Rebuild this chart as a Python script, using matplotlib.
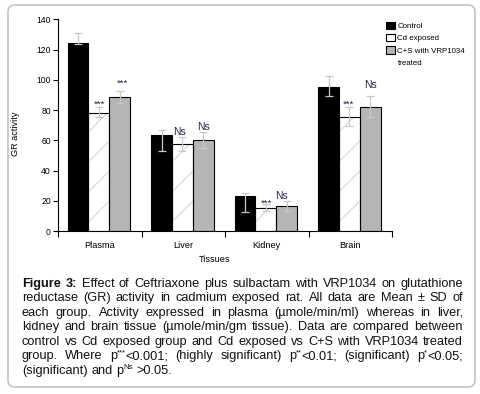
import re

import matplotlib

matplotlib.use("Agg")
import matplotlib.pyplot as plt
import numpy as np
from matplotlib.patches import FancyBboxPatch, Patch
from matplotlib.transforms import IdentityTransform

plt.rcParams["font.family"] = ["Liberation Sans", "DejaVu Sans"]

TISSUES = ["Plasma", "Liver", "Kidney", "Brain"]
SERIES = ["Control", "Cd exposed", "C+S with VRP1034"]

CONTROL = [124.0, 63.6, 23.2, 95.2]
CD_EXPOSED = [78.0, 57.6, 15.0, 75.7]
CS_VRP = [88.5, 60.3, 16.8, 82.3]

# error bar ends as drawn in the figure
CONTROL_ERR_LO = [123.6, 53.2, 12.4, 89.4]
CONTROL_ERR_HI = [130.9, 66.9, 25.4, 102.6]
CD_ERR_LO = [75.7, 53.2, 13.2, 69.5]
CD_ERR_HI = [81.9, 62.0, 17.7, 81.9]
CS_ERR_LO = [84.6, 55.2, 13.4, 75.3]
CS_ERR_HI = [92.3, 65.8, 20.1, 89.4]

# significance marks: (tissue, series, text, height)
SIG_MARKS = [
    (0, 1, "***", 86.1),
    (0, 2, "***", 100.0),
    (1, 1, "Ns", 65.8),
    (1, 2, "Ns", 69.0),
    (2, 1, "***", 20.5),
    (2, 2, "Ns", 23.8),
    (3, 1, "***", 85.6),
    (3, 2, "Ns", 97.3),
]
SIG_NUDGE = [0.01, 0.03, -0.03, 0.0, 0.01, -0.06, -0.01, 0.0]

CAPTION_LINES = [
    "Figure 3: Effect of Ceftriaxone plus sulbactam with VRP1034 on glutathione",
    "reductase (GR) activity in cadmium exposed rat. All data are Mean \u00b1 SD of",
    "each group. Activity expressed in plasma (\u00b5mole/min/ml) whereas in liver,",
    "kidney and brain tissue (\u00b5mole/min/gm tissue). Data are compared between",
    "control vs Cd exposed group and Cd exposed vs C+S with VRP1034 treated",
    "group. Where p^{***}<0.001; (highly significant) p^{**}<0.01; (significant) p^{*}<0.05;",
    "(significant) and p^{Ns} >0.05.",
]

W_PX, H_PX = 480, 394
BAR_W = 0.25
OFFSETS = [-0.26, -0.01, 0.24]
ERR_COLOR = "#c8c8c8"
MARK_COLOR = "#26264a"


def sparse_hatch(ax, bars, spacing=30, color="#d2d2d2"):
    inv = ax.transData.inverted()
    for bar in bars:
        x0, y0 = ax.transData.transform((bar.get_x(), bar.get_y()))
        x1, y1 = ax.transData.transform((bar.get_x() + bar.get_width(), bar.get_y() + bar.get_height()))
        for c in np.arange(-(x1 - x0), y1 - y0, spacing):
            px = np.array([x0, x1])
            py = y0 + c + (px - x0)
            pts = inv.transform(np.column_stack([px, py]))
            (line,) = ax.plot(pts[:, 0], pts[:, 1], color=color, lw=0.7, zorder=2.1,
                              scalex=False, scaley=False)
            line.set_clip_path(bar)


def draw_caption(fig, lines, x_left, x_right, first_baseline, pitch, size):
    renderer = fig.canvas.get_renderer()
    px_per_pt = fig.dpi / 72.0
    ident = IdentityTransform()
    for i, line in enumerate(lines):
        y = H_PX - (first_baseline + i * pitch)
        words = []
        for j, word in enumerate(line.split(" ")):
            weight = "bold" if (i == 0 and j < 2) else "normal"
            parts = re.split(r"\^\{(.*?)\}", word)
            pieces = []
            for k, part in enumerate(parts):
                if not part:
                    continue
                sup = k % 2 == 1
                t = fig.text(0, y + (0.4 * size * px_per_pt if sup else 0), part,
                             transform=ident, fontsize=size * 0.62 if sup else size,
                             fontweight=weight, ha="left", va="baseline", color="#111111")
                pieces.append((t, t.get_window_extent(renderer).width))
            words.append(pieces)
        widths = [sum(w for _, w in pieces) for pieces in words]
        if i < len(lines) - 1:
            gap = (x_right - x_left - sum(widths)) / (len(words) - 1)
        else:
            gap = 0.278 * size * px_per_pt
        x = x_left
        for pieces, width in zip(words, widths):
            cx = x
            for t, w in pieces:
                t.set_x(cx)
                cx += w
            x += width + gap


def main() -> None:
    fig = plt.figure(figsize=(W_PX / 100, H_PX / 100), dpi=100)

    frame = FancyBboxPatch((0.08, 0.07), 4.67, 3.82, boxstyle="round,pad=0,rounding_size=0.07",
                           transform=fig.dpi_scale_trans, facecolor="white",
                           edgecolor="#c8c8c8", lw=1.3, zorder=-5)
    fig.patches.append(frame)

    ax = fig.add_axes([58 / W_PX, 1 - 231 / H_PX, 334 / W_PX, 211.7 / H_PX])
    ax.set_facecolor("none")
    ax.set_xlim(-0.5, 3.5)
    ax.set_ylim(0, 140)

    x = np.arange(len(TISSUES))
    values = [CONTROL, CD_EXPOSED, CS_VRP]
    lows = [CONTROL_ERR_LO, CD_ERR_LO, CS_ERR_LO]
    highs = [CONTROL_ERR_HI, CD_ERR_HI, CS_ERR_HI]
    fills = ["black", "white", "#b5b5b5"]
    containers = []
    for vals, lo, hi, fill, off in zip(values, lows, highs, fills, OFFSETS):
        vals = np.asarray(vals)
        bars = ax.bar(x + off, vals, BAR_W, color=fill, edgecolor="black", lw=0.8, zorder=2)
        containers.append(bars)
        yerr = np.vstack([vals - np.asarray(lo), np.asarray(hi) - vals])
        ax.errorbar(x + off, vals, yerr=yerr, fmt="none", ecolor=ERR_COLOR, elinewidth=0.9,
                    capsize=2.6, capthick=0.9, zorder=3)

    sparse_hatch(ax, containers[1])
    # Cd edges above the hatch lines, white fill underneath
    for bar in containers[1]:
        bar.set_zorder(2.2)
        bar.set_facecolor("none")
    ax.bar(x + OFFSETS[1], CD_EXPOSED, BAR_W, color="white", lw=0, zorder=1.9)

    for (ti, si, text, h), dx in zip(SIG_MARKS, SIG_NUDGE):
        is_star = text.startswith("*")
        ax.annotate(text, (ti + OFFSETS[si] + dx, h), xytext=(0, -4.0 if is_star else -2.7),
                    textcoords="offset points", ha="center", va="baseline",
                    fontsize=6.8 if is_star else 7.5, color=MARK_COLOR, zorder=4)

    for side in ["top", "right"]:
        ax.spines[side].set_visible(False)
    for side in ["left", "bottom"]:
        ax.spines[side].set_linewidth(0.8)

    ax.set_yticks(range(0, 141, 20))
    ax.tick_params(axis="y", length=3.6, width=0.8, labelsize=6.2, pad=1.5)
    ax.set_xticks(x)
    ax.set_xticklabels(TISSUES)
    ax.set_xticks(np.arange(-0.5, len(TISSUES), 1), minor=True)
    ax.tick_params(axis="x", which="major", length=0, labelsize=6.6, pad=7.5)
    ax.tick_params(axis="x", which="minor", length=4.5, width=0.8)

    ax.set_xlabel("Tissues", fontsize=6.6)
    ax.xaxis.set_label_coords(0.47, -0.115)
    ax.set_ylabel("GR activity", fontsize=6.6)
    ax.yaxis.set_label_coords(-0.115, 0.46)

    handles = [
        Patch(facecolor="black", edgecolor="black", lw=0.8),
        Patch(facecolor="white", edgecolor="black", lw=0.8),
        Patch(facecolor="#b5b5b5", edgecolor="black", lw=0.8),
        Patch(facecolor="none", edgecolor="none"),
    ]
    labels = SERIES + ["treated"]
    fig.legend(handles, labels, loc="upper left", bbox_to_anchor=(386 / W_PX, 1 - 22 / H_PX),
               frameon=False, fontsize=5.7, handlelength=1.15, handleheight=1.0,
               handletextpad=0.3, labelspacing=0.5, borderpad=0, borderaxespad=0)

    draw_caption(fig, CAPTION_LINES, 22, 463, 286.7, 14.55, 9.2)

    fig.savefig("out.png", dpi=100)
    plt.close(fig)


if __name__ == "__main__":
    main()
